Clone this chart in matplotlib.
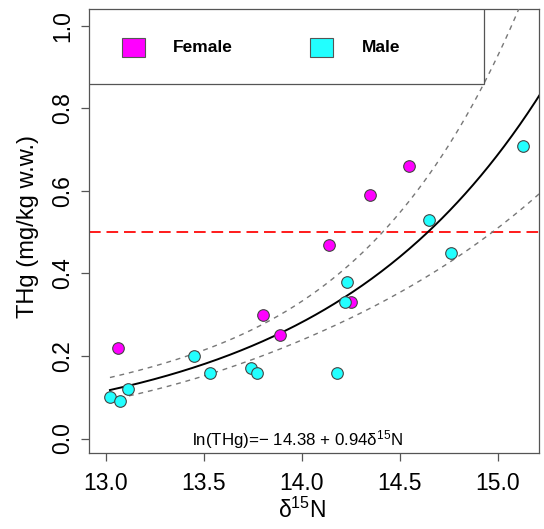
import numpy as np
import matplotlib
matplotlib.use("Agg")
import matplotlib.pyplot as plt
from matplotlib.patches import Rectangle

plt.rcParams["font.family"] = ["Liberation Sans", "DejaVu Sans"]
plt.rcParams["mathtext.fontset"] = "custom"
plt.rcParams["mathtext.rm"] = "Liberation Sans"
plt.rcParams["mathtext.it"] = "Liberation Sans:italic"

# data
female_n15 = [13.06, 13.80, 13.89, 14.14, 14.25, 14.35, 14.55]
female_thg = [0.22, 0.30, 0.25, 0.47, 0.33, 0.59, 0.66]
male_n15 = [13.02, 13.07, 13.11, 13.45, 13.53, 13.74, 13.77,
            14.18, 14.22, 14.23, 14.65, 14.76, 15.13]
male_thg = [0.10, 0.09, 0.12, 0.20, 0.16, 0.17, 0.16,
            0.16, 0.33, 0.38, 0.53, 0.45, 0.71]

# fitted model in log space as drawn, with its confidence band
fit_intercept = -13.755
fit_slope = 0.892
band_center = 13.80
band_c0 = 0.0258
band_c1 = 0.0441
threshold = 0.5

grey = "#555555"

fig = plt.figure(figsize=(5.44, 5.29), dpi=100)
ax = fig.add_axes([0.1636, 0.1437, 0.8281, 0.8387])

xs = np.linspace(min(male_n15 + female_n15), 15.4, 300)
mid = fit_intercept + fit_slope * xs
half = np.sqrt(band_c0 + band_c1 * (xs - band_center) ** 2)
ax.plot(xs, np.exp(mid), color="black", lw=1.4, zorder=3)
ax.plot(xs, np.exp(mid + half), color="#777777", lw=1.0, dashes=(3.5, 3.5), zorder=3)
ax.plot(xs, np.exp(mid - half), color="#777777", lw=1.0, dashes=(3.5, 3.5), zorder=3)
ax.axhline(threshold, color="#ff1a1a", lw=1.4, dashes=(6, 3), zorder=2)

ax.scatter(female_n15, female_thg, s=70, c="#ff00ff", edgecolors="#444444", linewidths=0.8, zorder=4)
ax.scatter(male_n15, male_thg, s=70, c="#22ffff", edgecolors="#444444", linewidths=0.8, zorder=4)

ax.set_xlim(12.913, 15.214)
ax.set_ylim(-0.035, 1.04)
ax.set_xticks([13.0, 13.5, 14.0, 14.5, 15.0])
ax.set_yticks([0.0, 0.2, 0.4, 0.6, 0.8, 1.0])
ax.set_xticklabels(["13.0", "13.5", "14.0", "14.5", "15.0"])
ax.set_yticklabels(["0.0", "0.2", "0.4", "0.6", "0.8", "1.0"], rotation=90, va="center")
ax.tick_params(length=6, width=0.9, color=grey, labelsize=16.5)
ax.tick_params(axis="x", pad=7.5)
ax.tick_params(axis="y", pad=4.5)
for s in ax.spines.values():
    s.set_color(grey)
    s.set_linewidth(0.9)

ax.set_xlabel(r"$\mathrm{\delta}^{15}$N", fontsize=16.5)
ax.xaxis.set_label_coords(0.473, -0.10)
ax.set_ylabel("THg (mg/kg w.w.)", fontsize=17)
ax.yaxis.set_label_coords(-0.11, 0.51)

ax.text(13.98, -0.003, r"ln(THg)=$-$ 14.38 + 0.94$\mathrm{\delta}^{15}$N",
        fontsize=12.2, ha="center", va="center", zorder=5)

# legend box, R style
ax.add_patch(Rectangle((0, 0.8317), 0.877, 0.1683, transform=ax.transAxes,
                       facecolor="white", edgecolor=grey, lw=0.9, zorder=6))
for x0, col, lab, tx in [(0.0733, "#ff00ff", "Female", 0.1865),
                         (0.4906, "#22ffff", "Male", 0.606)]:
    ax.add_patch(Rectangle((x0, 0.8925), 0.051, 0.0428, transform=ax.transAxes,
                           facecolor=col, edgecolor=grey, lw=0.8, zorder=7))
    ax.text(tx, 0.914, lab, transform=ax.transAxes, fontsize=12.5, fontweight="bold",
            ha="left", va="center", zorder=7)

fig.savefig("out.png", dpi=100)
